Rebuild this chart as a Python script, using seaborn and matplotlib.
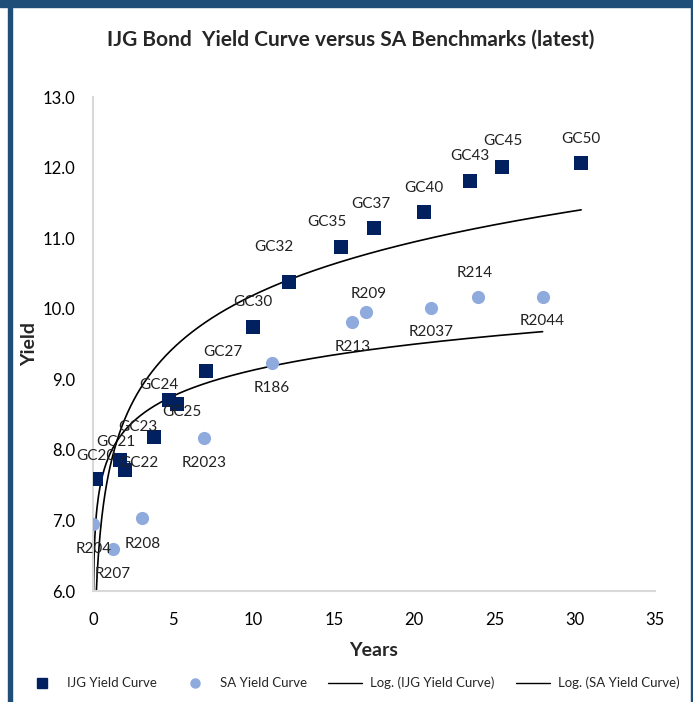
import numpy as np
import pandas as pd
import matplotlib
matplotlib.use("Agg")
import matplotlib.pyplot as plt
import seaborn as sns
from matplotlib.lines import Line2D
from matplotlib.patches import Rectangle

# ---------------- data ----------------
ijg_names = ["GC20", "GC21", "GC22", "GC23", "GC24", "GC25", "GC27", "GC30",
             "GC32", "GC35", "GC37", "GC40", "GC43", "GC45", "GC50"]
ijg_years = [0.19, 1.68, 2.0, 3.8, 4.74, 5.24, 7.05, 9.98,
             12.2, 15.47, 17.47, 20.6, 23.45, 25.5, 30.4]
ijg_yield = [7.59, 7.86, 7.72, 8.18, 8.71, 8.65, 9.12, 9.74,
             10.38, 10.87, 11.14, 11.37, 11.81, 12.01, 12.06]

sa_names = ["R204", "R207", "R208", "R2023", "R186", "R213", "R209",
            "R2037", "R214", "R2044"]
sa_years = [0.02, 1.25, 3.08, 6.9, 11.15, 16.16, 17.03, 21.07, 24.0, 28.0]
sa_yield = [6.95, 6.6, 7.04, 8.17, 9.23, 9.81, 9.95, 10.01, 10.17, 10.17]

# label offsets in pixels (dx, dy) relative to marker
ijg_offsets = [(0, 23), (-4, 18), (14, 7), (-16, 10), (-10, 15), (5, -8), (17, 19),
               (0, 25), (-15, 35), (-15, 25), (-3, 24), (0, 24), (0, 25), (0, 26), (0, 24)]
sa_offsets = [(0, -25), (0, -25), (0, -26), (0, -25), (0, -25), (0, -25), (2, 18),
              (0, -24), (-4, 24), (0, -24)]

NAVY = "#002060"
LIGHT = "#8FAADC"
BORDER = "#1F4E79"

ijg_df = pd.DataFrame({"Years": ijg_years, "Yield": ijg_yield, "name": ijg_names})
sa_df = pd.DataFrame({"Years": sa_years, "Yield": sa_yield, "name": sa_names})


def log_trend(x, y):
    a, b = np.polyfit(np.log(x), y, 1)
    xs = np.linspace(min(x), max(x), 600)
    return pd.DataFrame({"Years": xs, "Yield": a * np.log(xs) + b})


ijg_tr = log_trend(np.array(ijg_years), np.array(ijg_yield))
sa_tr = log_trend(np.array(sa_years), np.array(sa_yield))

# ---------------- figure ----------------
sns.set_theme(style="white")
plt.rcParams["font.family"] = ["Lato", "DejaVu Sans"]

fig = plt.figure(figsize=(6.93, 7.02), dpi=100)
ax = fig.add_axes([93 / 693, 1 - 591 / 702, (655 - 93) / 693, (591 - 97) / 702])

sns.lineplot(data=ijg_tr, x="Years", y="Yield", ax=ax, color="black", lw=1.2)
sns.lineplot(data=sa_tr, x="Years", y="Yield", ax=ax, color="black", lw=1.2)
sns.scatterplot(data=ijg_df, x="Years", y="Yield", ax=ax, marker="s", s=115,
                color=NAVY, edgecolor=NAVY, linewidth=0, zorder=3)
sns.scatterplot(data=sa_df, x="Years", y="Yield", ax=ax, marker="o", s=90,
                color=LIGHT, edgecolor=LIGHT, linewidth=0, zorder=3)

for df, offs in ((ijg_df, ijg_offsets), (sa_df, sa_offsets)):
    for (_, r), (dx, dy) in zip(df.iterrows(), offs):
        ax.annotate(r["name"], (r["Years"], r["Yield"]), xytext=(dx, dy),
                    textcoords="offset pixels", ha="center", va="center",
                    fontsize=11, color="#222222", zorder=4)

ax.set_xlim(0, 35)
ax.set_ylim(6.0, 13.0)
ax.set_xticks(np.arange(0, 36, 5))
ax.set_yticks(np.arange(6, 13.1, 1))
ax.set_yticklabels([f"{v:.1f}" for v in np.arange(6, 13.1, 1)])
ax.tick_params(axis="both", labelsize=12, colors="#000000", length=0)
ax.tick_params(axis="y", pad=13)
ax.tick_params(axis="x", pad=15)
for s in ("top", "right"):
    ax.spines[s].set_visible(False)
ax.spines["left"].set_color("#D9D9D9")
ax.spines["left"].set_linewidth(1.5)
ax.spines["bottom"].set_color("#D9D9D9")
ax.spines["bottom"].set_linewidth(1.5)
ax.set_xlabel("Years", fontsize=14, fontweight="bold")
ax.set_ylabel("Yield", fontsize=14, fontweight="bold")
ax.xaxis.set_label_coords(0.5, -(651 - 591) / 494)
ax.xaxis.label.set_va("center")
ax.yaxis.set_label_coords(-(93 - 30) / 562, 0.5)
ax.yaxis.label.set_va("center")

fig.text(351 / 693, 1 - 40 / 702, "IJG Bond  Yield Curve versus SA Benchmarks (latest)",
         ha="center", va="center", fontsize=15, fontweight="bold")

handles = [
    Line2D([], [], marker="s", ls="none", color=NAVY, markersize=7),
    Line2D([], [], marker="o", ls="none", color=LIGHT, markersize=6.5),
    Line2D([], [], color="black", lw=1),
    Line2D([], [], color="black", lw=1),
]
labels = ["IJG Yield Curve", "SA Yield Curve", "Log. (IJG Yield Curve)", "Log. (SA Yield Curve)"]
fig.legend(handles, labels, loc="center", bbox_to_anchor=(352 / 693, 1 - 683 / 702), ncol=4,
           frameon=False, fontsize=9.5, handlelength=2.6, columnspacing=1.6, handletextpad=0.6)

# frame borders
fig.patches.append(Rectangle((0, 1 - 7 / 702), 1, 7 / 702, transform=fig.transFigure,
                             color=BORDER, zorder=10))
fig.patches.append(Rectangle((8 / 693, 0), 4 / 693, 1, transform=fig.transFigure,
                             color=BORDER, zorder=10))
fig.patches.append(Rectangle((691 / 693, 0), 2 / 693, 1, transform=fig.transFigure,
                             color=BORDER, zorder=10))

fig.savefig("out.png", dpi=100)
